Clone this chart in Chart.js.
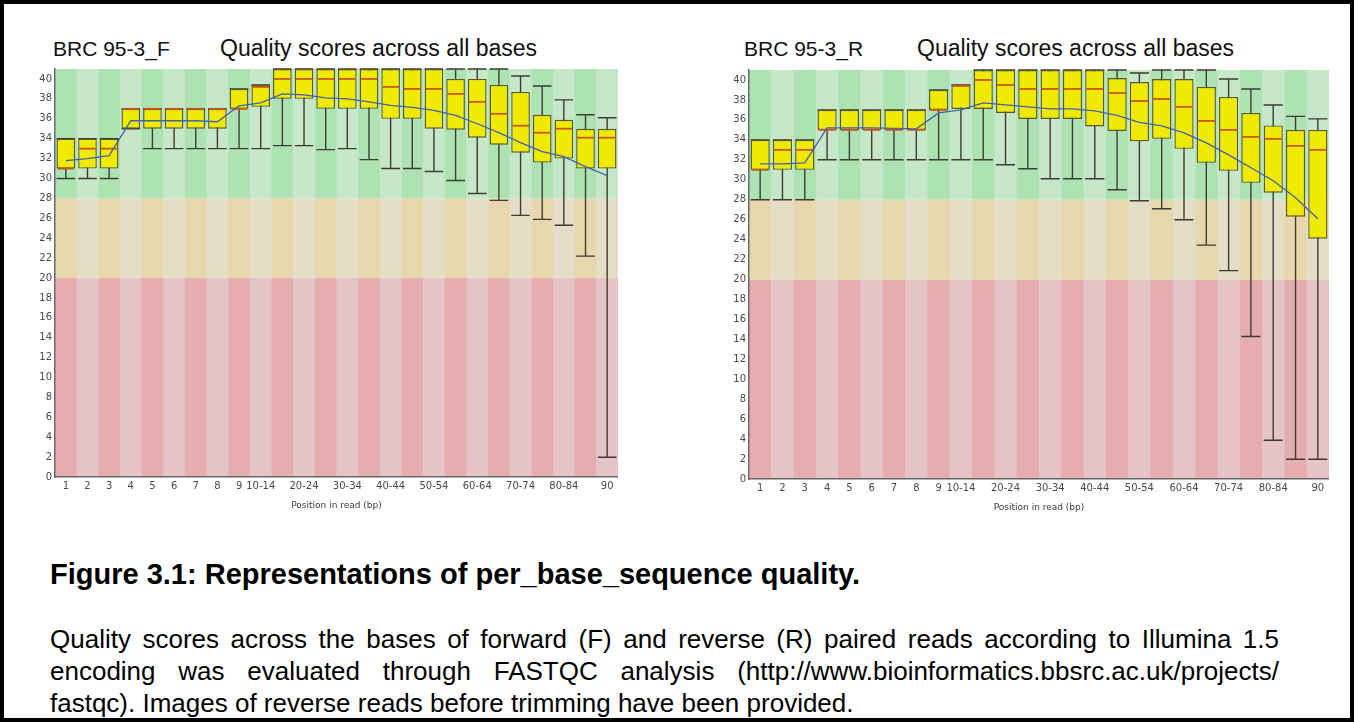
<!DOCTYPE html>
<html>
<head>
<meta charset="utf-8">
<script src="https://cdn.jsdelivr.net/npm/chart.js@4.4.1/dist/chart.umd.min.js"></script>
<style>
  html, body { margin: 0; padding: 0; background: #fff; }
  #page { position: relative; width: 1354px; height: 722px; overflow: hidden; background: #fff; }
  #frame { position: absolute; left: 0; top: 0; width: 1354px; height: 722px; box-sizing: border-box; border: 4px solid #000; pointer-events: none; }
  .title { position: absolute; font-family: "Liberation Sans", Arial, sans-serif; color: #111; white-space: nowrap; }
  .sample { top: 38px; font-size: 21px; line-height: 21px; }
  .heading { top: 37px; font-size: 23px; line-height: 23px; }
  .plot { position: absolute; }
  .plot canvas { display: block; }
  #caption { position: absolute; left: 50px; top: 558px; font-family: "Liberation Sans", Arial, sans-serif; font-weight: bold; font-size: 29px; line-height: 32px; color: #000; white-space: nowrap; }
  #para { position: absolute; left: 50px; top: 623px; width: 1229px; font-family: "Liberation Sans", Arial, sans-serif; font-size: 26px; line-height: 32px; color: #000; }
  #para .jl { text-align: justify; text-align-last: justify; white-space: nowrap; }
  #para .ll { white-space: nowrap; }
</style>
</head>
<body>
<div id="page">
  <div class="title sample" style="left:53px">BRC 95-3_F</div>
  <div class="title heading" style="left:220px">Quality scores across all bases</div>
  <div class="title sample" style="left:744px">BRC 95-3_R</div>
  <div class="title heading" style="left:917px">Quality scores across all bases</div>

  <div class="plot" style="left:20px; top:60px;"><canvas id="chartF" width="598" height="455"></canvas></div>
  <div class="plot" style="left:714px; top:61px;"><canvas id="chartR" width="615" height="456"></canvas></div>

  <div id="caption">Figure 3.1: Representations of per_base_sequence quality.</div>
  <div id="para">
    <div class="jl">Quality scores across the bases of forward (F) and reverse (R) paired reads according to Illumina 1.5</div>
    <div class="jl">encoding was evaluated through FASTQC analysis (http://www.bioinformatics.bbsrc.ac.uk/projects/</div>
    <div class="ll">fastqc). Images of reverse reads before trimming have been provided.</div>
  </div>
  <div id="frame"></div>
</div>

<script>
// Read positions (bp) and which of them carry a tick label
const positions = ['1','2','3','4','5','6','7','8','9','10-14','15-19','20-24','25-29','30-34','35-39',
  '40-44','45-49','50-54','55-59','60-64','65-69','70-74','75-79','80-84','85-89','90'];
const tickLabels = ['1','2','3','4','5','6','7','8','9','10-14','20-24','30-34','40-44','50-54',
  '60-64','70-74','80-84','90'];
const scoreTicks = [0,2,4,6,8,10,12,14,16,18,20,22,24,26,28,30,32,34,36,38,40];

// Quality zones (Phred score)
const zoneLimits = [0, 20, 28, 41];

// Forward reads (BRC 95-3_F)
const fLow    = [30,30,30,35,33,33,33,33,33,33,33.3,33.3,32.9,33,31.9,31,31,30.7,29.8,28.5,27.8,26.3,25.9,25.3,22.2,2];
const fQ1     = [31,31,31,35,35,35,35,35,37,37.2,38,38,37,37,37,36,36,35,34.9,34.1,33.4,32.6,31.6,32,31,31];
const fMedian = [31,33,33,37,37,37,37,37,37,39.2,40,40,40,40,40,39.2,39,39,38.5,37.7,36.5,35.3,34.6,35,34.1,34.1];
const fQ3     = [34,34,34,37,37,37,37,37,39,39.4,41,41,41,41,41,41,41,41,40,40,39.4,38.7,36.4,35.9,35,35];
const fHigh   = [34,34,34,37,37,37,37,37,39,39.4,41,41,41,41,41,41,41,41,41,41,41,40.3,39.3,37.9,36.4,36.1];
const fMean   = [31.8,32.0,32.3,35.8,35.8,35.8,35.8,35.7,37.3,37.6,38.5,38.4,38.1,38.0,37.7,37.35,37.15,36.85,36.35,35.5,34.6,33.6,32.7,32.2,31.2,30.3];

// Reverse reads (BRC 95-3_R)
const rLow    = [28,28,28,32,32,32,32,32,32,32,32,31.5,31.1,30.1,30.1,30.1,29,27.9,27.1,26,23.45,20.9,14.3,3.9,2,2];
const rQ1     = [31,31,31,35,35,35,35,35,37,37.1,37.1,36.7,36.1,36.1,36.1,35.35,34.9,33.85,34.1,33.1,31.7,30.9,29.7,28.7,26.3,24.1];
const rMedian = [31,33,33,35,35,35,35,35,37,39.4,40,39.5,39.1,39.1,39.1,39.1,38.7,37.9,38.1,37.3,35.9,35,34.3,34.1,33.4,33];
const rQ3     = [34,34,34,37,37,37,37,37,39,39.5,41,41,41,41,41,41,40.2,39.8,40.1,40.1,39.3,38.3,36.7,35.45,35,35];
const rHigh   = [34,34,34,37,37,37,37,37,39,39.5,41,41,41,41,41,41,41,40.7,41,41,41,40.1,39.1,37.5,36.35,36.1];
const rMean   = [31.6,31.6,31.7,35.2,35.2,35.2,35.15,35.1,36.7,37.0,37.7,37.5,37.3,37.1,37.1,36.9,36.45,35.75,35.4,34.7,33.7,32.5,31.2,29.9,28.2,26.1];

Chart.defaults.font.family = '"DejaVu Sans", Verdana, sans-serif';

// Alternating coloured bands behind the plot: red / amber / green quality zones
const zoneStripes = {
  id: 'zoneStripes',
  beforeDraw(chart) {
    const {ctx, chartArea: a, scales: {x, y}} = chart;
    const n = chart.data.labels.length;
    const w = (a.right - a.left) / n;
    const colours = [
      ['#e6adb1', '#e5c3c6'],
      ['#e6d7ac', '#e6ddc6'],
      ['#ade2b3', '#c6e7c8']
    ];
    ctx.save();
    for (let z = 0; z < zoneLimits.length - 1; z++) {
      const yTop = y.getPixelForValue(zoneLimits[z + 1]);
      const yBot = y.getPixelForValue(zoneLimits[z]);
      for (let i = 0; i < n; i++) {
        const cx = x.getPixelForValue(i);
        ctx.fillStyle = colours[z][i % 2];
        ctx.fillRect(cx - w / 2, yTop, w + 0.5, yBot - yTop);
      }
    }
    ctx.restore();
  }
};

// Whiskers (10th-90th percentile) behind the boxes, medians on top of them
const boxWhiskers = {
  id: 'boxWhiskers',
  beforeDatasetsDraw(chart, args, opts) {
    const {ctx, scales: {x, y}, chartArea: a} = chart;
    const meta = chart.getDatasetMeta(1);
    ctx.save();
    ctx.beginPath();
    ctx.rect(a.left, a.top - 1, a.right - a.left, a.bottom - a.top + 1);
    ctx.clip();
    ctx.strokeStyle = '#3d3d33';
    ctx.lineWidth = 1.4;
    opts.low.forEach((lo, i) => {
      const cx = x.getPixelForValue(i);
      const hw = meta.data[i].width / 2;
      const yl = y.getPixelForValue(lo);
      const yh = y.getPixelForValue(opts.high[i]);
      ctx.beginPath();
      ctx.moveTo(cx, yl); ctx.lineTo(cx, yh);
      ctx.moveTo(cx - hw, yl); ctx.lineTo(cx + hw, yl);
      ctx.moveTo(cx - hw, yh); ctx.lineTo(cx + hw, yh);
      ctx.stroke();
    });
    ctx.restore();
  },
  afterDatasetDraw(chart, args, opts) {
    if (args.index !== 1) return;
    const {ctx, scales: {x, y}} = chart;
    const meta = chart.getDatasetMeta(1);
    ctx.save();
    ctx.strokeStyle = '#c9581a';
    ctx.lineWidth = 1.8;
    opts.median.forEach((m, i) => {
      const cx = x.getPixelForValue(i);
      const hw = meta.data[i].width / 2;
      const ym = y.getPixelForValue(m);
      ctx.beginPath();
      ctx.moveTo(cx - hw + 1, ym); ctx.lineTo(cx + hw - 1, ym);
      ctx.stroke();
    });
    ctx.restore();
  }
};

function qualityPlot(canvasId, low, q1, median, q3, high, mean, padTop) {
  return new Chart(document.getElementById(canvasId), {
    type: 'bar',
    data: {
      labels: positions,
      datasets: [
        {
          type: 'line',
          data: mean,
          borderColor: '#4262aa',
          borderWidth: 1.3,
          pointRadius: 0,
          tension: 0,
          fill: false,
          order: 0
        },
        {
          type: 'bar',
          data: q1.map((v, i) => [v, q3[i]]),
          backgroundColor: '#f0ea00',
          borderColor: '#5e5a1e',
          borderWidth: 1.4,
          borderSkipped: false,
          barPercentage: 0.86,
          categoryPercentage: 1,
          order: 1
        }
      ]
    },
    options: {
      responsive: false,
      animation: false,
      events: [],
      layout: { padding: { top: padTop, left: 0, right: 0, bottom: 0 } },
      plugins: {
        legend: { display: false },
        tooltip: { enabled: false },
        boxWhiskers: { low, median, high }
      },
      scales: {
        x: {
          offset: true,
          grid: { display: true, color: 'rgba(0,0,0,0)', drawTicks: false, offset: true },
          border: { display: true, color: '#6a6a6a', width: 1.5, z: 1 },
          ticks: {
            autoSkip: false,
            maxRotation: 0,
            padding: 3,
            color: '#4a4a4a',
            font: { size: 10 },
            callback(value) {
              const lab = positions[value];
              return tickLabels.includes(lab) ? lab : '';
            }
          },
          title: {
            display: true,
            text: 'Position in read (bp)',
            color: '#3a3a3a',
            font: { size: 9 },
            padding: { top: 5, bottom: 4 }
          }
        },
        y: {
          min: 0,
          max: 41,
          grid: { display: true, color: 'rgba(0,0,0,0)', drawTicks: false },
          border: { display: true, color: '#6a6a6a', width: 1.5, z: 1 },
          afterBuildTicks(scale) { scale.ticks = scoreTicks.map(v => ({ value: v })); },
          afterFit(scale) { scale.width = 35; },
          ticks: { padding: 3, color: '#4a4a4a', font: { size: 10 } }
        }
      }
    },
    plugins: [zoneStripes, boxWhiskers]
  });
}

qualityPlot('chartF', fLow, fQ1, fMedian, fQ3, fHigh, fMean, 8);
qualityPlot('chartR', rLow, rQ1, rMedian, rQ3, rHigh, rMean, 8);
</script>
</body>
</html>
